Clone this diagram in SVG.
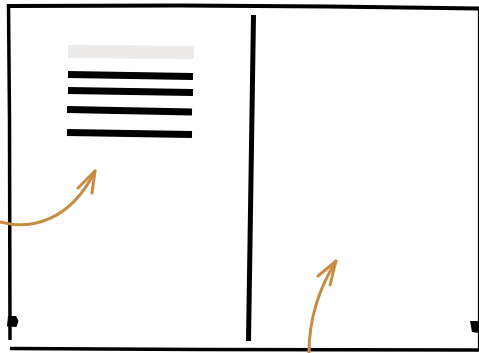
<svg xmlns="http://www.w3.org/2000/svg" width="479" height="353" viewBox="0 0 479 353">
<style>
.ink{fill:none;stroke:#000;stroke-linecap:butt}
.bar{fill:none;stroke:#000;stroke-width:7}
.arr{fill:none;stroke:#c68d42;stroke-width:3;stroke-linecap:round;stroke-linejoin:round}
</style>
<rect width="479" height="353" fill="#fff"/>
<g id="frame">
<path class="ink" d="M8 6 L180 5.5 L330 6.5 L479 8.5" stroke-width="4"/>
<path class="ink" d="M8.5 4 L9.5 120 L10 340" stroke-width="3.5"/>
<path class="ink" d="M10 348.5 L200 349.5 L479 350" stroke-width="3.5"/>
<path class="ink" d="M478.5 8 L478.5 350" stroke-width="1.2"/>
<path d="M8 316 L16 316 L18.5 321 L16.5 327 L7 326.5 Z" fill="#000"/>
<path d="M470 321 L479 321 L479 333 L472 332 Z" fill="#000"/>
</g>
<g id="divider">
<path class="ink" d="M253.5 15 L248.5 341" stroke-width="5"/>
</g>
<g id="content">
<path d="M68 45 L194 46 L194 59 L68 58 Z" fill="#ecebe9"/>
<path class="bar" d="M68 74.5 L193 76.5"/>
<path class="bar" d="M68 90.5 L193 92.5" stroke-width="5.5"/>
<path class="bar" d="M67 109.5 L192 112"/>
<path class="bar" d="M67 132.5 L192 134.5"/>
</g>
<g id="connectors">
<path class="arr" d="M0 222 C30 230 70 222 95 171"/>
<path class="arr" d="M78 188 L95 171 L92 193"/>
<path class="arr" d="M309 353 C309 320 318 290 336 261"/>
<path class="arr" d="M318 276 L336 261 L330 285"/>
</g>
</svg>
